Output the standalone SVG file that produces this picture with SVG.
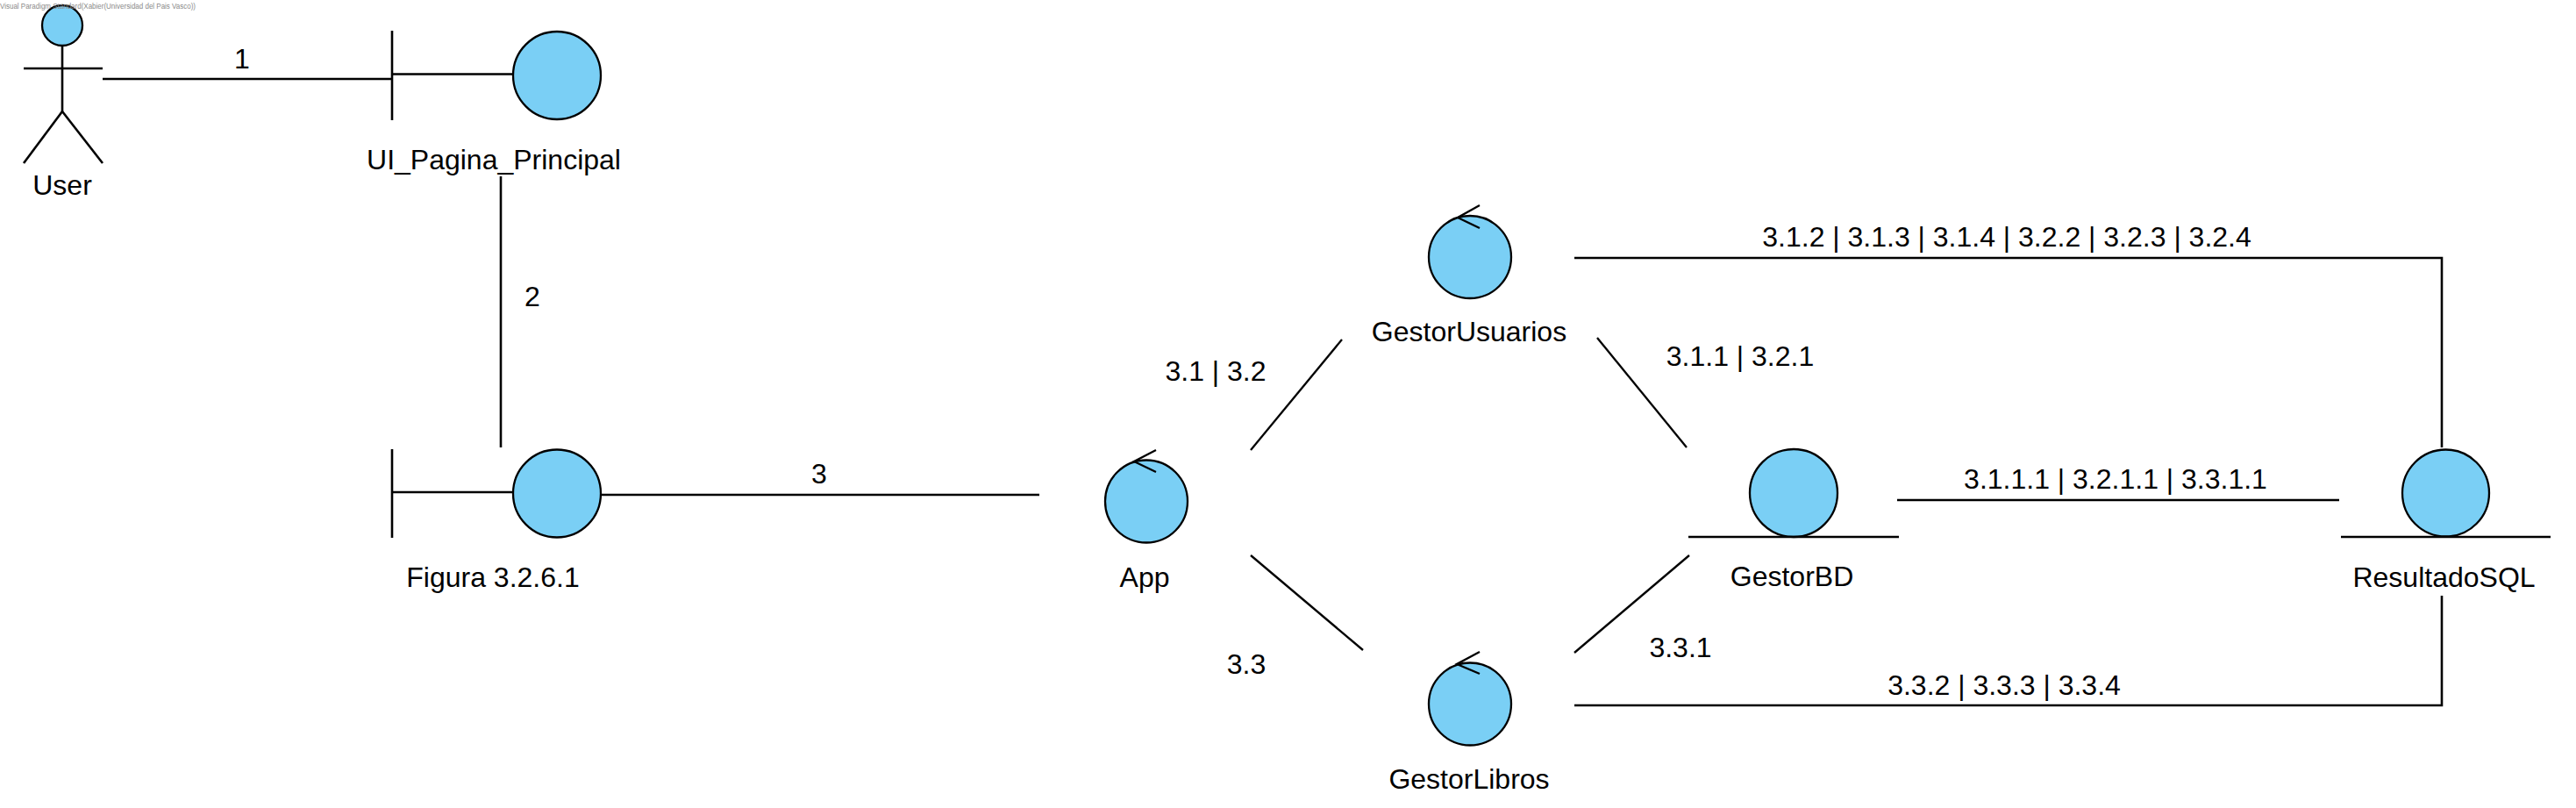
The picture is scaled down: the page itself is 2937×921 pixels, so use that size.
<svg xmlns="http://www.w3.org/2000/svg" width="2937" height="921" viewBox="0 0 2937 921">
<style>
.bg{fill:#ffffff}
.ln{stroke:#000;stroke-width:2.6;fill:none}
.dg{stroke:#000;stroke-width:2.3;fill:none}
.sh{fill:#7ACFF5;stroke:#000;stroke-width:2.3}
.ar{stroke:#000;stroke-width:2.3;fill:none}
.t{font-family:"Liberation Sans",Arial,sans-serif;font-size:32px;fill:#000;text-anchor:middle}
.hd{font-family:"Liberation Sans",Arial,sans-serif;font-size:8.5px;fill:#8a8a8a}
</style>
<rect class="bg" x="0" y="0" width="2937" height="921"/>
<g id="connectors">
<line class="ln" x1="117" y1="90" x2="446" y2="90"/>
<text class="t" x="276" y="78">1</text>
<line class="ln" x1="571" y1="201" x2="571" y2="510"/>
<text class="t" x="607" y="349">2</text>
<line class="ln" x1="685" y1="564" x2="1185" y2="564"/>
<text class="t" x="934" y="551">3</text>
<line class="dg" x1="1426" y1="513" x2="1530" y2="387"/>
<text class="t" x="1386" y="434">3.1 | 3.2</text>
<line class="dg" x1="1426" y1="633" x2="1554" y2="741"/>
<text class="t" x="1421" y="768">3.3</text>
<line class="dg" x1="1821" y1="385" x2="1923" y2="510"/>
<text class="t" x="1984" y="417">3.1.1 | 3.2.1</text>
<line class="dg" x1="1795" y1="744" x2="1926" y2="633"/>
<text class="t" x="1916" y="749">3.3.1</text>
<line class="ln" x1="2163" y1="570" x2="2667" y2="570"/>
<text class="t" x="2412" y="557">3.1.1.1 | 3.2.1.1 | 3.3.1.1</text>
<polyline class="ln" points="1795,294 2784,294 2784,510"/>
<text class="t" x="2288" y="281">3.1.2 | 3.1.3 | 3.1.4 | 3.2.2 | 3.2.3 | 3.2.4</text>
<polyline class="ln" points="1795,804 2784,804 2784,679"/>
<text class="t" x="2285" y="792">3.3.2 | 3.3.3 | 3.3.4</text>
</g>
<g id="User">
<circle class="sh" cx="71" cy="29" r="23"/>
<line class="ln" x1="71" y1="52" x2="71" y2="127"/>
<line class="ln" x1="27" y1="78" x2="117" y2="78"/>
<line class="ln" x1="71" y1="127" x2="27" y2="186"/>
<line class="ln" x1="71" y1="127" x2="117" y2="186"/>
<text class="t" x="71" y="222">User</text>
</g>
<g id="UI_Pagina_Principal">
<line class="ln" x1="447" y1="35" x2="447" y2="137"/>
<line class="ln" x1="447" y1="84.5" x2="585" y2="84.5"/>
<circle class="sh" cx="635" cy="86" r="50"/>
<text class="t" x="563" y="193">UI_Pagina_Principal</text>
</g>
<g id="Figura_3.2.6.1">
<line class="ln" x1="447" y1="512" x2="447" y2="613"/>
<line class="ln" x1="447" y1="561" x2="585" y2="561"/>
<circle class="sh" cx="635" cy="562.5" r="50"/>
<text class="t" x="562" y="669">Figura 3.2.6.1</text>
</g>
<g id="App">
<circle class="sh" cx="1307" cy="571.5" r="47"/>
<polyline class="ar" points="1318,513 1293,526 1318,538"/>
<text class="t" x="1305" y="669">App</text>
</g>
<g id="GestorUsuarios">
<circle class="sh" cx="1676" cy="293" r="47"/>
<polyline class="ar" points="1687,234 1662,248 1687,260"/>
<text class="t" x="1675" y="389">GestorUsuarios</text>
</g>
<g id="GestorLibros">
<circle class="sh" cx="1676" cy="802.5" r="47"/>
<polyline class="ar" points="1687,743 1661,757 1687,768"/>
<text class="t" x="1675" y="899">GestorLibros</text>
</g>
<g id="GestorBD">
<circle class="sh" cx="2045" cy="562" r="50"/>
<line class="ln" x1="1925" y1="612" x2="2165" y2="612"/>
<text class="t" x="2043" y="668">GestorBD</text>
</g>
<g id="ResultadoSQL">
<circle class="sh" cx="2788.5" cy="562" r="49.5"/>
<line class="ln" x1="2669" y1="612" x2="2908" y2="612"/>
<text class="t" x="2786.5" y="669">ResultadoSQL</text>
</g>
<text class="hd" x="0" y="10" textLength="223" lengthAdjust="spacingAndGlyphs">Visual Paradigm Standard(Xabier(Universidad del Pais Vasco))</text>
</svg>
